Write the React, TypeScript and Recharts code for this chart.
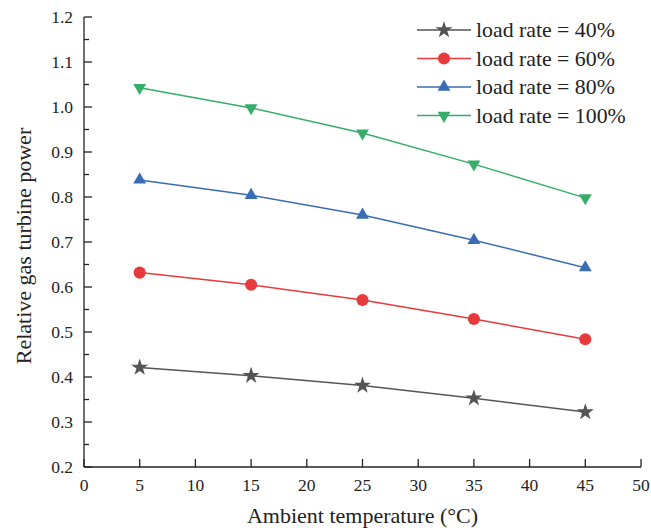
import React from "react";
import { LineChart, Line, XAxis, YAxis, Symbols, Label } from "recharts";

const temps = [5, 15, 25, 35, 45];
const load40 = [0.421, 0.403, 0.381, 0.353, 0.322];
const load60 = [0.632, 0.605, 0.571, 0.529, 0.484];
const load80 = [0.838, 0.804, 0.76, 0.704, 0.643];
const load100 = [1.043, 0.998, 0.942, 0.873, 0.798];

const xTicks = [0, 5, 10, 15, 20, 25, 30, 35, 40, 45, 50];
// major ticks every 0.1, minor ticks in between
const yTicks = [0.2, 0.25, 0.3, 0.35, 0.4, 0.45, 0.5, 0.55, 0.6, 0.65, 0.7, 0.75, 0.8, 0.85, 0.9, 0.95, 1.0, 1.05, 1.1, 1.15, 1.2];

const FONT = '"Liberation Serif", "Times New Roman", serif';
const INK = "#222";
const txt = { fontFamily: FONT };

const data = temps.map((t, i) => ({
  t,
  l40: load40[i],
  l60: load60[i],
  l80: load80[i],
  l100: load100[i],
}));

const series = [
  { key: "l40", name: "load rate = 40%", color: "#555555", shape: "star", size: 90, flip: false },
  { key: "l60", name: "load rate = 60%", color: "#e8393c", shape: "circle", size: 115, flip: false },
  { key: "l80", name: "load rate = 80%", color: "#3a6cb6", shape: "triangle", size: 72, flip: false },
  { key: "l100", name: "load rate = 100%", color: "#36ad68", shape: "triangle", size: 72, flip: true },
];

type S = (typeof series)[number];

function marker(s: S, cx: number, cy: number, k?: string | number) {
  return (
    <g key={k} transform={s.flip ? `rotate(180 ${cx} ${cy})` : undefined}>
      <Symbols cx={cx} cy={cy} type={s.shape as any} size={s.size} fill={s.color} stroke="none" />
    </g>
  );
}

function YTick(props: any) {
  const { x, y, payload } = props;
  const v = payload.value;
  const major = Math.abs(v * 10 - Math.round(v * 10)) < 1e-6;
  return (
    <g>
      <line x1={x} x2={x + (major ? 8 : 5)} y1={y} y2={y} stroke={INK} strokeWidth={1.3} />
      {major && (
        <text x={x - 11} y={y} textAnchor="end" dominantBaseline="central" fontSize={17.5} style={txt} fill={INK}>
          {v.toFixed(1)}
        </text>
      )}
    </g>
  );
}

function XTick(props: any) {
  const { x, y, payload } = props;
  return (
    <g>
      <line x1={x} x2={x} y1={y} y2={y - 8} stroke={INK} strokeWidth={1.3} />
      <text x={x} y={y + 18} textAnchor="middle" dominantBaseline="central" fontSize={17.5} style={txt} fill={INK}>
        {payload.value}
      </text>
    </g>
  );
}

function LegendBox() {
  return (
    <svg width={234} height={120} style={{ position: "absolute", left: 417, top: 18 }}>
      {series.map((s, i) => {
        const y = 12 + i * 28.5;
        return (
          <g key={s.key}>
            <line x1={0} x2={54} y1={y} y2={y} stroke={s.color} strokeWidth={1.5} />
            {marker(s, 27, y)}
            <text x={59} y={y} dominantBaseline="central" fontSize={21.8} style={txt} fill={INK}>
              {s.name}
            </text>
          </g>
        );
      })}
    </svg>
  );
}

export default function App() {
  return (
    <div style={{ position: "relative", width: 651, height: 532, background: "#fff" }}>
      <style>{"body{margin:0}"}</style>
      <LineChart width={651} height={532} data={data} margin={{ top: 17, right: 10, left: 0, bottom: 0 }}>
        <XAxis
          dataKey="t"
          type="number"
          domain={[0, 50]}
          ticks={xTicks}
          interval={0}
          height={65}
          tickSize={0}
          tickMargin={0}
          tickLine={false}
          tick={<XTick />}
          axisLine={{ stroke: INK, strokeWidth: 1.3 }}
        >
          <Label
            content={({ viewBox }: any) => (
              <text x={viewBox.x + viewBox.width / 2} y={515} textAnchor="middle" dominantBaseline="central" fontSize={22} style={txt} fill={INK}>
                Ambient temperature (°C)
              </text>
            )}
          />
        </XAxis>
        <YAxis
          type="number"
          domain={[0.2, 1.2]}
          ticks={yTicks}
          interval={0}
          width={84}
          tickSize={0}
          tickMargin={0}
          tickLine={false}
          tick={<YTick />}
          axisLine={{ stroke: INK, strokeWidth: 1.3 }}
        >
          <Label
            content={({ viewBox }: any) => {
              const cx = 23;
              const cy = viewBox.y + viewBox.height / 2 + 4;
              return (
                <text x={cx} y={cy} transform={`rotate(-90 ${cx} ${cy})`} textAnchor="middle" dominantBaseline="central" fontSize={22} style={txt} fill={INK}>
                  Relative gas turbine power
                </text>
              );
            }}
          />
        </YAxis>
        {series.map((s) => (
          <Line
            key={s.key}
            dataKey={s.key}
            name={s.name}
            stroke={s.color}
            strokeWidth={1.5}
            isAnimationActive={false}
            dot={(p: any) => marker(s, p.cx, p.cy, `${s.key}-${p.index}`)}
            activeDot={false}
          />
        ))}
      </LineChart>
      <LegendBox />
    </div>
  );
}
